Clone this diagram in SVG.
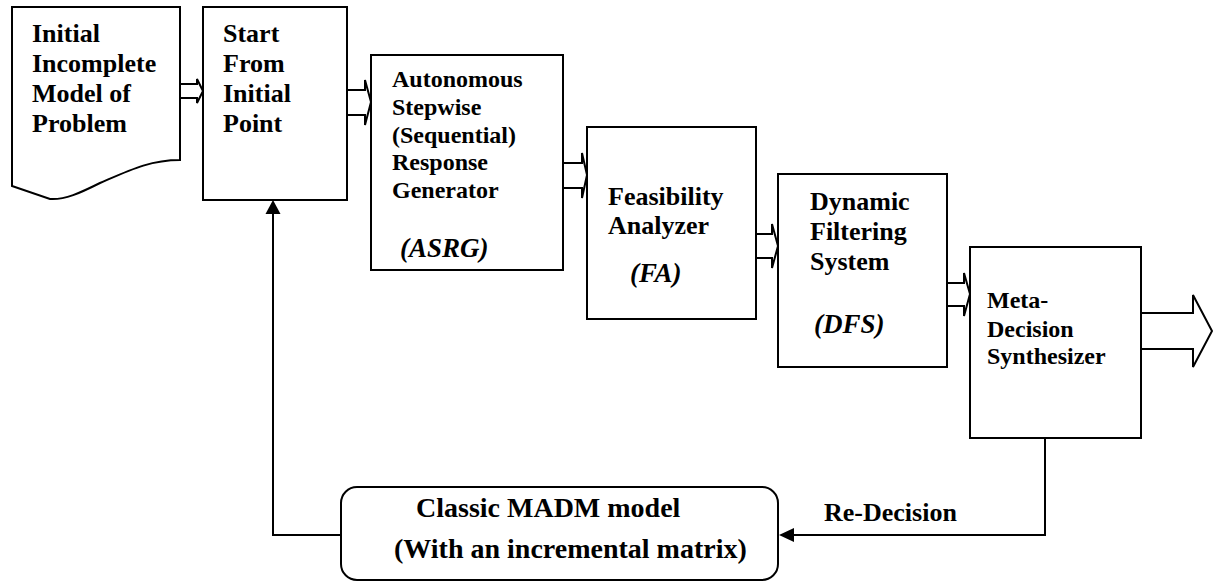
<svg xmlns="http://www.w3.org/2000/svg" width="1215" height="583" viewBox="0 0 1215 583">
<defs>
<style>
.box{fill:#fff;stroke:#000;stroke-width:2}
.blk{fill:#fff;stroke:#000;stroke-width:2;stroke-linejoin:miter}
.ln{fill:none;stroke:#000;stroke-width:2}
text{font-family:"Liberation Serif","Times New Roman",serif;font-weight:bold;fill:#000}
.t26{font-size:26px}
.t24{font-size:24px}
.it{font-style:italic;font-size:27px}
.t28{font-size:28px}
</style>
</defs>
<rect width="1215" height="583" fill="#fff"/>
<g id="connectors">
<polygon class="blk" points="180,84 197,84 197,79 203,91 197,103 197,98 180,98"/>
<polygon class="blk" points="347,90 365,90 365,80 371,102 365,125 365,115 347,115"/>
<polygon class="blk" points="563,163 582,163 582,153 587,175 582,198 582,188 563,188"/>
<polygon class="blk" points="756,234 772,234 772,224 778,246 772,268 772,258 756,258"/>
<polygon class="blk" points="947,283 964,283 964,273 970,294 964,316 964,306 947,306"/>
<polygon class="blk" points="1141,313 1193,313 1193,295 1212,331 1193,367 1193,349 1141,349"/>
<path class="ln" d="M1045,438 V535 H792"/>
<path d="M779,535 L794,528 L794,542 Z" fill="#000"/>
<path class="ln" d="M341,535 H273 V212"/>
<path d="M273,200 L265.5,214 L280.5,214 Z" fill="#000"/>
<text class="t26" x="824" y="521">Re-Decision</text>
</g>
<g id="doc">
<path class="ln" d="M12,7 H180 V160 C150,160 130,170 100,183 C80,193 65,200 50,199 L12,186 Z"/>
<text class="t26" x="32" y="42">Initial</text>
<text class="t26" x="32" y="72">Incomplete</text>
<text class="t26" x="32" y="102">Model of</text>
<text class="t26" x="32" y="132">Problem</text>
</g>
<g id="start">
<rect class="box" x="203" y="7" width="144" height="193"/>
<text class="t26" x="223" y="42">Start</text>
<text class="t26" x="223" y="72">From</text>
<text class="t26" x="223" y="102">Initial</text>
<text class="t26" x="223" y="132">Point</text>
</g>
<g id="asrg">
<rect class="box" x="371" y="55" width="192" height="215"/>
<text class="t24" x="392" y="87">Autonomous</text>
<text class="t24" x="392" y="115">Stepwise</text>
<text class="t24" x="392" y="143">(Sequential)</text>
<text class="t24" x="392" y="170">Response</text>
<text class="t24" x="392" y="198">Generator</text>
<text class="it" x="400" y="257">(ASRG)</text>
</g>
<g id="fa">
<rect class="box" x="587" y="127" width="169" height="192"/>
<text class="t26" x="608" y="205">Feasibility</text>
<text class="t26" x="608" y="234">Analyzer</text>
<text class="it" x="630" y="282">(FA)</text>
</g>
<g id="dfs">
<rect class="box" x="778" y="174" width="169" height="193"/>
<text class="t26" x="810" y="210">Dynamic</text>
<text class="t26" x="810" y="240">Filtering</text>
<text class="t26" x="810" y="270">System</text>
<text class="it" x="814" y="333">(DFS)</text>
</g>
<g id="meta">
<rect class="box" x="970" y="247" width="171" height="191"/>
<text class="t24" x="987" y="308">Meta-</text>
<text class="t24" x="987" y="337">Decision</text>
<text class="t24" x="987" y="364">Synthesizer</text>
</g>
<g id="madm">
<rect class="box" x="341" y="487" width="437" height="93" rx="16"/>
<text class="t28" x="416" y="517">Classic MADM model</text>
<text class="t28" x="394" y="558">(With an incremental matrix)</text>
</g>
</svg>
